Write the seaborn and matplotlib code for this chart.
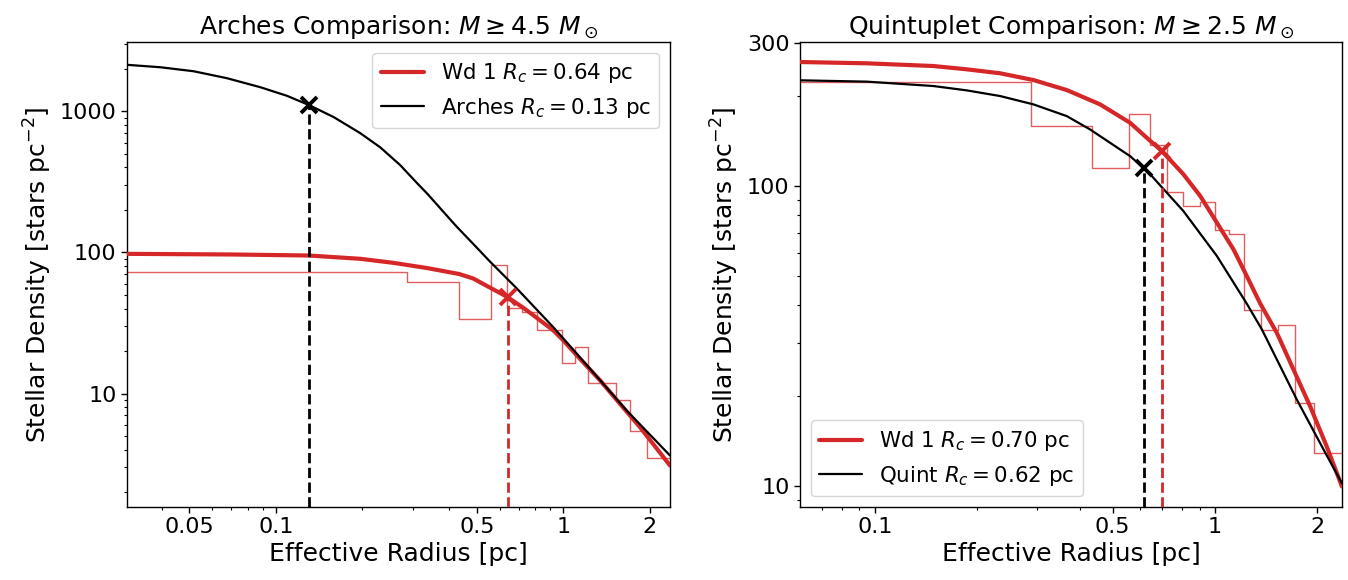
import matplotlib
matplotlib.use("Agg")
import matplotlib.pyplot as plt
import seaborn as sns
import pandas as pd
from matplotlib.ticker import FixedLocator, NullFormatter, LogLocator

# ---------------- Left panel: Arches comparison (M >= 4.5 Msun) ----------------
arches_r = [0.0303, 0.0396, 0.0517, 0.0675, 0.0882, 0.1092, 0.130, 0.1588, 0.1965,
            0.2307, 0.2708, 0.3096, 0.3354, 0.422, 0.500, 0.556, 0.689, 0.923,
            1.238, 1.661, 2.35]
arches_dens = [2136, 2053, 1923, 1717, 1482, 1288, 1110, 910, 700,
               555, 415, 310, 262, 155, 108, 86, 55.5, 29.5,
               15.0, 7.58, 3.64]
wd1a_r = [0.0303, 0.070, 0.1299, 0.1965, 0.2567, 0.3354, 0.434, 0.486, 0.635,
          0.726, 0.830, 0.923, 1.000, 1.143, 1.342, 1.574, 1.849, 2.35]
wd1a_dens = [97.7, 96.7, 95.1, 90.1, 84.3, 77.5, 70.3, 65.3, 48.6,
             40.5, 33.0, 28.0, 23.8, 17.6, 12.4, 8.46, 5.77, 3.09]
wd1a_hist_edges = [0.01, 0.286, 0.434, 0.559, 0.638, 0.716, 0.808, 0.992, 1.098,
                   1.216, 1.525, 1.706, 1.95, 2.6]
wd1a_hist_vals = [72.1, 61.3, 33.8, 82.0, 40.3, 38.1, 28.0, 16.5, 21.5, 11.8,
                  9.0, 5.4, 3.48]
arches_rc, arches_rc_dens = 0.13, 1110
wd1a_rc, wd1a_rc_dens = 0.64, 48.6
left_xticks = [0.05, 0.1, 0.5, 1, 2]
left_xticklabels = ["0.05", "0.1", "0.5", "1", "2"]
left_yticks = [10, 100, 1000]
left_yticklabels = ["10", "100", "1000"]
left_xlim = (0.0303, 2.35)
left_ylim = (1.57, 3100)

# ---------------- Right panel: Quintuplet comparison (M >= 2.5 Msun) ----------------
quint_r = [0.0602, 0.0946, 0.1485, 0.1861, 0.2333, 0.2922, 0.3664, 0.429, 0.5625,
           0.616, 0.644, 0.807, 1.012, 1.240, 1.372, 1.739, 2.108, 2.36]
quint_dens = [225.7, 223.4, 216, 208.9, 200, 187.6, 171.4, 154.7, 126,
              115, 109.7, 82.6, 58.5, 40.5, 33.3, 19.4, 12.9, 10.2]
wd1q_r = [0.0602, 0.0946, 0.1485, 0.1861, 0.2333, 0.2922, 0.3664, 0.459, 0.5625,
          0.644, 0.697, 0.807, 0.904, 1.012, 1.133, 1.226, 1.357, 1.519, 1.701,
          1.904, 2.131, 2.36]
wd1q_dens = [259.8, 257.2, 251.9, 245.6, 238.2, 226.2, 209.4, 187.6, 162.8,
             141.8, 131.2, 109.6, 92.8, 75.6, 61.5, 51.4, 40.6, 32.4, 24.4,
             18.4, 13.5, 9.95]
wd1q_hist_edges = [0.01, 0.2877, 0.434, 0.558, 0.643, 0.721, 0.807, 0.904, 0.996,
                   1.102, 1.220, 1.366, 1.536, 1.712, 1.956, 2.6]
wd1q_hist_vals = [223.4, 158.8, 115.1, 173.9, 137, 95.3, 85.9, 88.6, 71.3, 69.5,
                  38.5, 33.0, 34.3, 18.9, 12.9]
quint_rc, quint_rc_dens = 0.62, 115
wd1q_rc, wd1q_rc_dens = 0.70, 131.2
right_xticks = [0.1, 0.5, 1, 2]
right_xticklabels = ["0.1", "0.5", "1", "2"]
right_yticks = [10, 100, 300]
right_yticklabels = ["10", "100", "300"]
right_xlim = (0.0602, 2.36)
right_ylim = (8.5, 303)

RED = "#d62728"
BLACK = "black"

sns.set_theme(style="ticks")
plt.rcParams.update({
    "font.family": ["DejaVu Sans"],
    "font.size": 16,
    "axes.edgecolor": "black",
    "axes.labelcolor": "black",
    "axes.linewidth": 1.0,
    "xtick.color": "black",
    "ytick.color": "black",
    "xtick.labelsize": 16,
    "ytick.labelsize": 16,
    "axes.labelsize": 18,
    "axes.titlesize": 18,
    "xtick.major.size": 4,
    "ytick.major.size": 4,
    "xtick.minor.size": 2.5,
    "ytick.minor.size": 2.5,
    "xtick.major.width": 1.0,
    "ytick.major.width": 1.0,
    "xtick.minor.width": 0.8,
    "ytick.minor.width": 0.8,
    "legend.fontsize": 15.4,
    "text.color": "black",
    "mathtext.fontset": "dejavusans",
})

fig = plt.figure(figsize=(13.48, 5.80), dpi=100)
axL = fig.add_axes([0.0942, 0.1259, 0.4028, 0.8017])
axR = fig.add_axes([0.5935, 0.1259, 0.4020, 0.8017])


def steps_frame(edges, vals):
    return pd.DataFrame({"r": edges, "dens": list(vals) + [vals[-1]]})


def draw_panel(ax, hist_edges, hist_vals, wd_r, wd_dens, other_r, other_dens,
               wd_label, other_label, wd_rc, wd_rc_dens, oth_rc, oth_rc_dens,
               xlim, ylim, xticks, xticklabels, yticks, yticklabels, title, legloc):
    ax.set_xscale("log")
    ax.set_yscale("log")
    h = steps_frame(hist_edges, hist_vals)
    sns.lineplot(data=h, x="r", y="dens", ax=ax, color=RED, lw=1.0, alpha=0.75,
                 drawstyle="steps-post", estimator=None, sort=False, legend=False)
    sns.lineplot(x=wd_r, y=wd_dens, ax=ax, color=RED, lw=3.0, label=wd_label,
                 estimator=None, sort=False, zorder=3)
    sns.lineplot(x=other_r, y=other_dens, ax=ax, color=BLACK, lw=1.6,
                 label=other_label, estimator=None, sort=False, zorder=3)
    ax.set_xlim(*xlim)
    ax.set_ylim(*ylim)
    ybot = ylim[0]
    ax.vlines(oth_rc, ybot, oth_rc_dens, colors=BLACK, linestyles="--", lw=2.0, zorder=4)
    ax.vlines(wd_rc, ybot, wd_rc_dens, colors=RED, linestyles="--", lw=2.0, zorder=4)
    ax.plot([oth_rc], [oth_rc_dens], marker="x", color=BLACK, ms=11, mew=2.8,
            ls="none", zorder=5)
    ax.plot([wd_rc], [wd_rc_dens], marker="x", color=RED, ms=11, mew=2.8,
            ls="none", zorder=5)
    ax.xaxis.set_major_locator(FixedLocator(xticks))
    ax.set_xticklabels(xticklabels)
    ax.yaxis.set_major_locator(FixedLocator(yticks))
    ax.set_yticklabels(yticklabels)
    ax.xaxis.set_minor_locator(LogLocator(base=10, subs=range(2, 10), numticks=20))
    ax.yaxis.set_minor_locator(LogLocator(base=10, subs=range(2, 10), numticks=20))
    ax.xaxis.set_minor_formatter(NullFormatter())
    ax.yaxis.set_minor_formatter(NullFormatter())
    ax.tick_params(which="both", direction="out")
    ax.set_xlabel("Effective Radius [pc]", labelpad=3)
    ax.set_ylabel(r"Stellar Density [stars pc$^{-2}$]", labelpad=4)
    ax.set_title(title, pad=6)
    for s in ax.spines.values():
        s.set_visible(True)
        s.set_color("black")
    leg = ax.legend(loc=legloc, frameon=True, fancybox=True, framealpha=0.8,
                    edgecolor="0.8", handlelength=2.0)
    leg.get_frame().set_linewidth(1.0)


draw_panel(axL, wd1a_hist_edges, wd1a_hist_vals, wd1a_r, wd1a_dens, arches_r, arches_dens,
           r"Wd 1 $R_c = 0.64$ pc", r"Arches $R_c = 0.13$ pc",
           wd1a_rc, wd1a_rc_dens, arches_rc, arches_rc_dens,
           left_xlim, left_ylim, left_xticks, left_xticklabels, left_yticks, left_yticklabels,
           r"Arches Comparison: $M \geq 4.5\ M_\odot$", "upper right")

draw_panel(axR, wd1q_hist_edges, wd1q_hist_vals, wd1q_r, wd1q_dens, quint_r, quint_dens,
           r"Wd 1 $R_c = 0.70$ pc", r"Quint $R_c = 0.62$ pc",
           wd1q_rc, wd1q_rc_dens, quint_rc, quint_rc_dens,
           right_xlim, right_ylim, right_xticks, right_xticklabels, right_yticks, right_yticklabels,
           r"Quintuplet Comparison: $M \geq 2.5\ M_\odot$", "lower left")

fig.savefig("out.png", dpi=100, facecolor="white")
